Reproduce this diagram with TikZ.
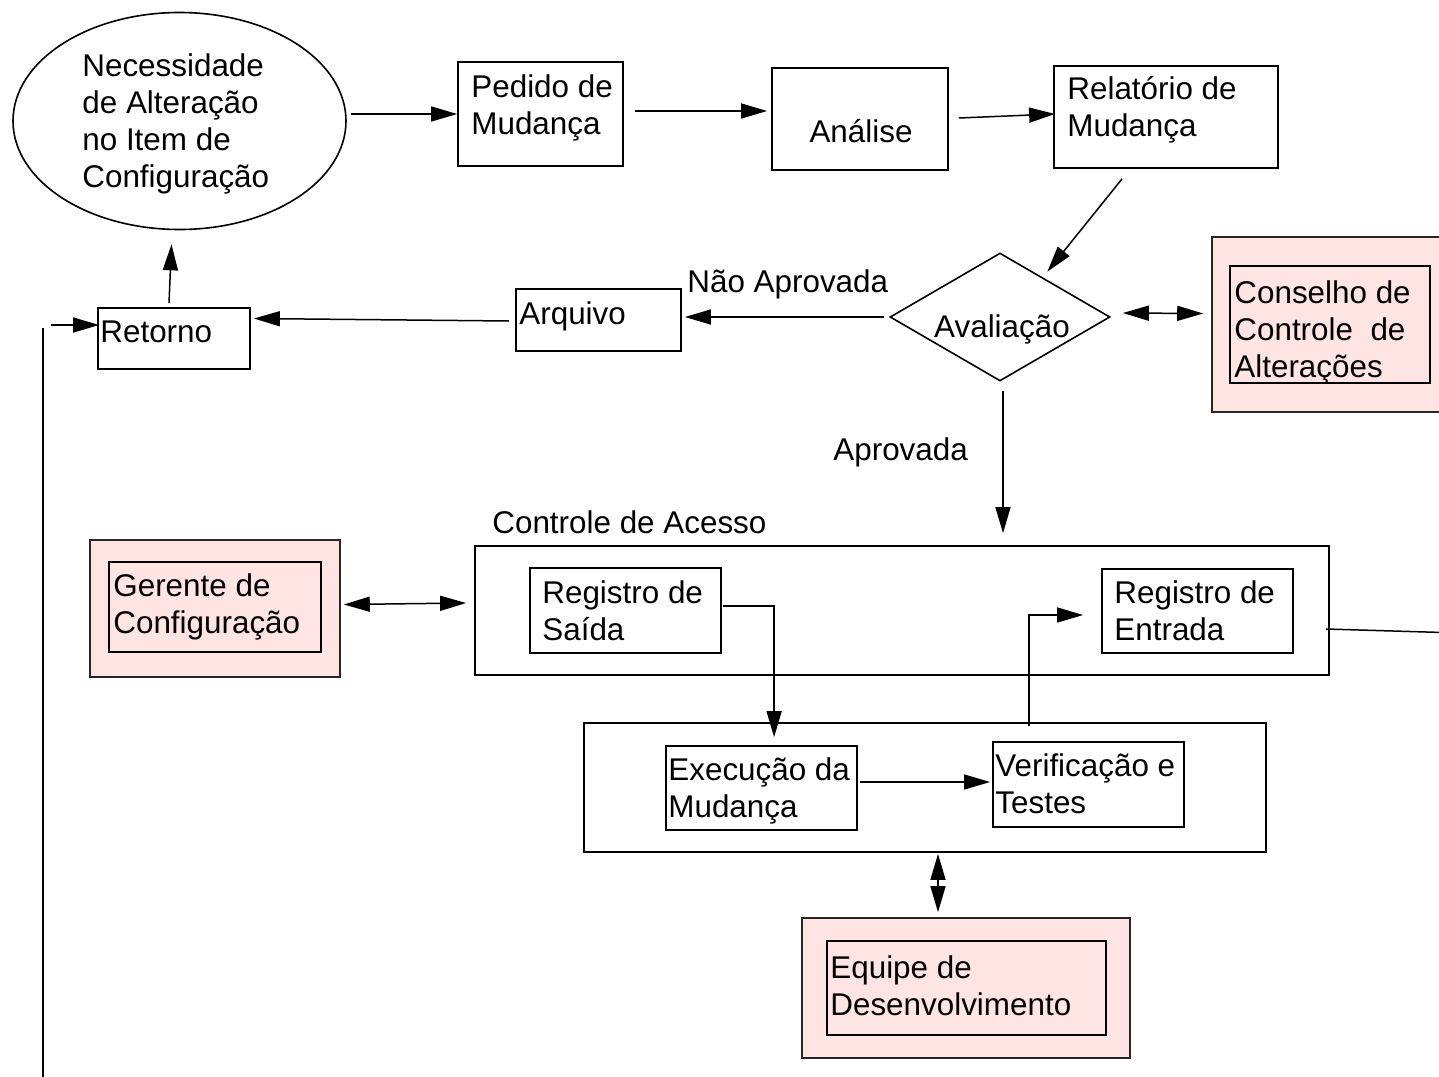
\documentclass[tikz,border=0pt]{standalone}
\usepackage{fontspec}
\setmainfont{Liberation Sans}
\usetikzlibrary{arrows.meta,shapes.geometric,fit,calc}
\definecolor{rosa}{RGB}{255,228,228}
\newcommand\fsz{\fontsize{15.7}{18.5}\selectfont}
\newcommand\tstrut{\rule{0pt}{16pt}}
\begin{document}
\begin{tikzpicture}[x=0.5pt,y=-0.5pt,
  box/.style={draw, line width=0.9pt, inner sep=0pt},
  outerbox/.style={draw=black!85, fill=rosa, line width=0.8pt, inner sep=0pt},
  innerbox/.style={draw, line width=0.8pt, inner sep=0pt},
  txt/.style={font=\fsz, align=left, inner sep=0pt, anchor=north west},
  lbl/.style={font=\fsz, inner sep=0pt},
  tip/.tip={Triangle[length=13pt,width=7.5pt]},
  conn/.style={line width=0.75pt, -tip},
  dconn/.style={line width=0.75pt, tip-tip},
  plain/.style={line width=0.75pt}]
\useasboundingbox (0,0) rectangle (1439,1076);

% ---- top row ----
\node[draw, ellipse, line width=0.8pt, minimum width=166.5pt, minimum height=108.5pt, inner sep=0pt] (need) at (179.5,121) {};
\node[txt] (needT) at (82,44) {\tstrut Necessidade\\de Alteração\\no Item de\\Configuração};

\node[box, fit={(458,62) (623,166)}] (pedido) {};
\node[txt] (pedidoT) at (471,65) {\tstrut Pedido de\\Mudança};

\node[box, fit={(772,68) (948,170)}] (analise) {};
\node[lbl, anchor=base] (analiseT) at (861,142) {Análise};

\node[box, fit={(1054,66) (1278,168)}] (relat) {};
\node[txt] (relatT) at (1067,67) {\tstrut Relatório de\\Mudança};

% ---- evaluation row ----
\node[draw, diamond, line width=0.8pt, minimum width=110pt, minimum height=64pt, inner sep=0pt] (aval) at (1000,317) {};
\node[lbl, anchor=base] (avalT) at (1002,337) {Avaliação};

\node[outerbox, fit={(1212,237) (1470,412)}] (conselho) {};
\node[innerbox, fit={(1230,266) (1430,383)}] (conselhoIn) {};
\node[txt] (conselhoT) at (1234,271) {\tstrut Conselho de\\Controle~ de\\Alterações};

\node[box, fit={(516,289) (681,351)}] (arquivo) {};
\node[lbl, anchor=base west] (arquivoT) at (519,324) {Arquivo};

\node[box, fit={(98,308) (250,369)}] (retorno) {};
\node[lbl, anchor=base west] (retornoT) at (100,342) {Retorno};

\node[lbl, anchor=base west] (naoT) at (687,292) {Não Aprovada};
\node[lbl, anchor=base west] (aprovT) at (833,460) {Aprovada};

% ---- access control ----
\node[lbl, anchor=base west] (acessoT) at (492,533) {Controle de Acesso};
\node[box, fit={(475,546) (1329,675)}] (controle) {};

\node[box, fit={(530,568) (721,653)}] (saida) {};
\node[txt] (saidaT) at (542,571) {\tstrut Registro de\\Saída};

\node[box, fit={(1102,569) (1293,653)}] (entrada) {};
\node[txt] (entradaT) at (1114,571) {\tstrut Registro de\\Entrada};

\node[outerbox, fit={(90,540) (340,677)}] (gerente) {};
\node[innerbox, fit={(109,562) (321,652)}] (gerenteIn) {};
\node[txt] (gerenteT) at (113,564) {\tstrut Gerente de\\Configuração};

% ---- development ----
\node[box, fit={(584,723) (1266,852)}] (dev) {};

\node[box, fit={(666,746) (857,830)}] (exec) {};
\node[txt] (execT) at (668,748) {\tstrut Execução da\\Mudança};

\node[box, fit={(993,742) (1184,827)}] (verif) {};
\node[txt] (verifT) at (995,744) {\tstrut Verificação e\\Testes};

\node[outerbox, fit={(802,918) (1130,1058)}] (equipe) {};
\node[innerbox, fit={(827,941) (1106,1035)}] (equipeIn) {};
\node[txt] (equipeT) at (830,946) {\tstrut Equipe de\\Desenvolvimento};

% ---- connectors ----
\draw[conn] ([shift={(4,-7)}]need.east) -- (pedido.west);
\draw[conn] ([shift={(11,-3)}]pedido.east) -- ([shift={(-4,-8)}]analise.west);
\draw[conn] ([shift={(10,-1)}]analise.east) -- ([shift={(2,-3)}]relat.west);
\draw[conn] ([shift={(-44,10)}]relat.south) -- ([shift={(-8,-13)}]aval.north east);
\draw[dconn] ([shift={(12,-4)}]aval.east) -- ([shift={(-8,-11)}]conselho.west);
\draw[conn] ([shift={(-5,0)}]aval.west) -- ([shift={(3,-3)}]arquivo.east);
\draw[conn] ([shift={(-6,1)}]arquivo.west) -- ([shift={(3,-20)}]retorno.east);
\draw[conn] ([shift={(-5,-4)}]retorno.north) -- ([shift={(-8,14)}]need.south);

\coordinate (loopTop) at (43,328);
\coordinate (loopBot) at (43,1090);
\coordinate (loopIn) at (51,325);
\draw[plain] (loopTop) -- (loopBot);
\draw[conn] (loopIn) -- ([shift={(2,-13.5)}]retorno.west);

\draw[conn] ($(aval.south |- controle.north)+(3,-12)$) ++(0,0) coordinate (aprTip)
  ([shift={(3,9)}]aval.south) -- (aprTip);

\draw[dconn] ([shift={(3,-4)}]gerente.east) -- ([shift={(-8,-7.5)}]controle.west);

\draw[conn] ([shift={(1,-4.5)}]saida.east) -| ($(dev.north west)+(191,15)$);
\draw[conn] ($(dev.north west)+(446,4)$) |- ([shift={(-18,4)}]entrada.west);
\draw[conn] ([shift={(2,-6)}]exec.east) -- ([shift={(-2,-2.5)}]verif.west);

\coordinate (outRight) at (1460,633);
\draw[plain] ([shift={(-4,18.5)}]controle.east) -- (outRight);

\draw[dconn] ([shift={(13,1)}]dev.south) -- ([shift={(-28,-5)}]equipe.north);
\end{tikzpicture}
\end{document}
